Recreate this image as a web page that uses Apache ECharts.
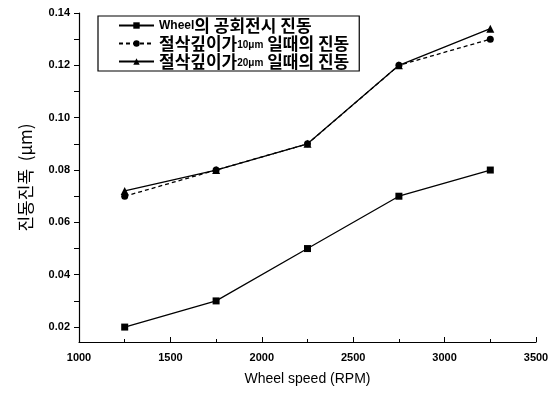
<!DOCTYPE html>
<html><head><meta charset="utf-8">
<script src="https://cdn.jsdelivr.net/npm/echarts@6/dist/echarts.min.js"></script>
<style>html,body{margin:0;padding:0;background:#fff}#c{width:560px;height:394px}</style>
</head><body><div id="c"></div>
<script>
var speeds = [1250, 1750, 2250, 2750, 3250];
var idle = [0.020, 0.030, 0.050, 0.070, 0.080];
var cut10 = [0.070, 0.080, 0.090, 0.120, 0.130];
var cut20 = [0.072, 0.080, 0.090, 0.120, 0.134];
var yTicks = [0.02, 0.04, 0.06, 0.08, 0.10, 0.12, 0.14];
var yMinor = [0.03, 0.05, 0.07, 0.09, 0.11, 0.13];
var names = ['Wheel의 공회전시 진동', '절삭깊이가10μm 일때의 진동', '절삭깊이가20μm 일때의 진동'];
var legendRich = ['{w|Wheel}의 공회전시 진동', '절삭깊이가{s|10μm} 일때의 진동', '절삭깊이가{s|20μm} 일때의 진동'];

function pairs(ys){ return speeds.map(function(x,i){return [x, ys[i]];}); }
var font = 'Liberation Sans, Arial, "Noto Sans CJK KR", sans-serif';
var kfont = '"Noto Sans CJK KR", sans-serif';
var chart = echarts.init(document.getElementById('c'));
chart.setOption({
  animation:false,
  backgroundColor:'#fff',
  grid:{left:79,right:24,top:13,bottom:52},
  legend:{
    orient:'vertical', left:98, top:16, itemGap:1, itemWidth:35, itemHeight:8,
    backgroundColor:'#fff', borderColor:'#000', borderWidth:1.2, borderRadius:0,
    padding:[1,10,1,20],
    textStyle:{color:'#000', fontSize:17, lineHeight:17, fontFamily:kfont, fontWeight:'bold',
      rich:{
        s:{fontSize:10, fontFamily:font, fontWeight:'bold', color:'#000', verticalAlign:'bottom', padding:[0,0,2,0]},
        w:{fontSize:12, fontFamily:font, fontWeight:'bold', color:'#000', verticalAlign:'bottom', padding:[0,0,2,0]}
      }},
    formatter:function(n){ return legendRich[names.indexOf(n)]; },
    data:names
  },
  xAxis:{
    type:'value', min:1000, max:3500, interval:500,
    name:'Wheel speed (RPM)', nameLocation:'middle', nameGap:30,
    nameTextStyle:{color:'#000', fontSize:14, fontFamily:font},
    axisLine:{lineStyle:{color:'#000', width:1.2}},
    axisTick:{inside:true, length:5, lineStyle:{color:'#000'}},
    minorTick:{show:true, splitNumber:2, length:3, lineStyle:{color:'#000'}},
    axisLabel:{color:'#000', fontSize:11, fontFamily:font, fontWeight:'bold', margin:10,
      formatter:function(v){return String(v);}},
    splitLine:{show:false}
  },
  yAxis:{
    type:'value', min:0.0143, max:0.14,
    name:'진동진폭  (μm)', nameLocation:'middle', nameGap:45, nameRotate:90,
    nameTextStyle:{color:'#000', fontSize:17, fontFamily:kfont},
    axisLine:{show:true, lineStyle:{color:'#000', width:1.2}},
    axisTick:{show:true, length:5, customValues:yTicks.concat(yMinor), lineStyle:{color:'#000'}},
    axisLabel:{color:'#000', fontSize:11, fontFamily:font, fontWeight:'bold', margin:9,
      customValues:yTicks, formatter:function(v){return v.toFixed(2);}},
    splitLine:{show:false}
  },
  series:[
    {name:names[0], type:'line', data:pairs(idle), symbol:'rect', symbolSize:7,
      lineStyle:{color:'#000', width:1.3}, itemStyle:{color:'#000'}},
    {name:names[1], type:'line', data:pairs(cut10), symbol:'circle', symbolSize:7,
      lineStyle:{color:'#000', width:1.3, type:[4,3]}, itemStyle:{color:'#000'}},
    {name:names[2], type:'line', data:pairs(cut20), symbol:'triangle', symbolSize:8,
      lineStyle:{color:'#000', width:1.3}, itemStyle:{color:'#000'}}
  ]
});
</script></body></html>
